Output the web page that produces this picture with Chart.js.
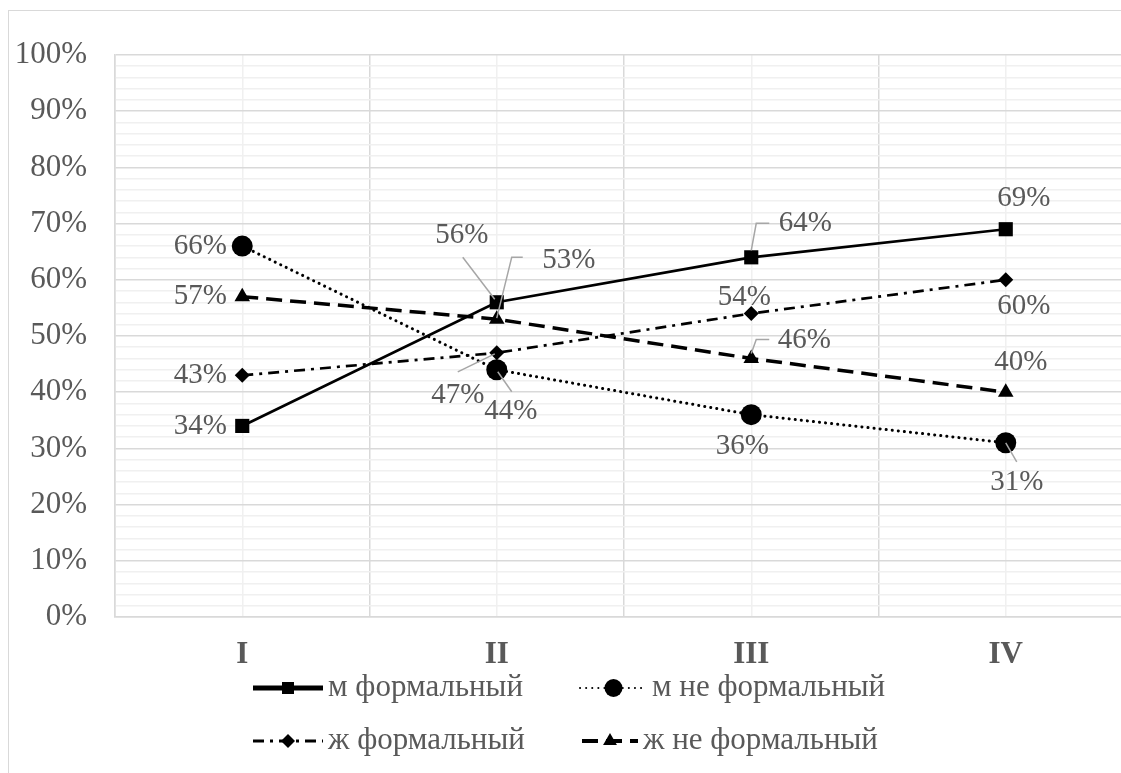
<!DOCTYPE html>
<html lang="ru">
<head>
    <meta charset="UTF-8">
    <title>Формальный / не формальный</title>
    <script src="https://cdn.jsdelivr.net/npm/chart.js"></script>
    <style>
        html, body { margin: 0; padding: 0; background: #fff; overflow: hidden; }
        .ramka { position: absolute; left: 8px; top: 10px; width: 1200px; height: 820px; border: 1px solid #d9d9d9; }
        #grafik { position: absolute; left: 0; top: 0; }
    </style>
</head>
<body>
    <div class="ramka"></div>
    <canvas id="grafik" width="1150" height="773"></canvas>

    <script>
        // данные
        const kategorii = ['I', 'II', 'III', 'IV'];
        const mFormal = [34, 56, 64, 69];
        const mNeFormal = [66, 44, 36, 31];
        const zhFormal = [43, 47, 54, 60];
        const zhNeFormal = [57, 53, 46, 40];
        const procentTiki = [0, 10, 20, 30, 40, 50, 60, 70, 80, 90, 100];

        const shrift = 'Liberation Serif';
        const seryi = '#595959';

        // подписи значений: смещение от точки и линии-выноски
        const podpisi = [
            [{dx: -42, dy: 0}, {dx: -35, dy: -67, lead: [[-2, -3], [-34, -45]]}, {dx: 54, dy: -34, lead: [[0, -7], [5, -34], [18, -34]]}, {dx: 18, dy: -31}],
            [{dx: -42, dy: 0}, {dx: 14, dy: 42, lead: [[1, 2], [15, 22]]}, {dx: -9, dy: 32}, {dx: 11, dy: 40, lead: [[0, 0], [11, 19]]}],
            [{dx: -42, dy: 0}, {dx: -39, dy: 43, lead: [[-2, 1], [-39, 19]]}, {dx: -7, dy: -16}, {dx: 18, dy: 27}],
            [{dx: -42, dy: 0}, {dx: 72, dy: -59, lead: [[0, -1], [15, -62], [26, -62]]}, {dx: 53, dy: -18, lead: [[0, -5], [5, -19], [18, -19]]}, {dx: 15, dy: -30}]
        ];

        // легенда (x - начало образца, w - длина, y - от низа области графика)
        const legenda = [
            {x: 253, w: 70, y: 71, lw: 5, r: 8.5},
            {x: 580, w: 67, y: 71, lw: 2, r: 9},
            {x: 253, w: 70, y: 124, lw: 3, r: 7},
            {x: 582, w: 56, y: 124, lw: 4, r: 8}
        ];

        const podpisiPlugin = {
            id: 'podpisi',
            afterDatasetsDraw(chart) {
                const ctx = chart.ctx;
                ctx.save();
                ctx.font = '29px "' + shrift + '"';
                ctx.textAlign = 'center';
                ctx.textBaseline = 'middle';
                chart.data.datasets.forEach((ds, i) => {
                    chart.getDatasetMeta(i).data.forEach((pt, j) => {
                        const p = podpisi[i][j];
                        if (p.lead) {
                            ctx.strokeStyle = '#a6a6a6';
                            ctx.lineWidth = 1.5;
                            ctx.beginPath();
                            p.lead.forEach((l, k) => {
                                if (k === 0) ctx.moveTo(pt.x + l[0], pt.y + l[1]);
                                else ctx.lineTo(pt.x + l[0], pt.y + l[1]);
                            });
                            ctx.stroke();
                        }
                        ctx.fillStyle = seryi;
                        ctx.fillText(ds.data[j] + '%', pt.x + p.dx, pt.y + p.dy);
                    });
                });
                ctx.restore();
            }
        };

        const legendaPlugin = {
            id: 'legenda',
            afterDraw(chart) {
                const ctx = chart.ctx;
                const niz = chart.chartArea.bottom;
                chart.data.datasets.forEach((ds, i) => {
                    const L = legenda[i];
                    const y = niz + L.y;
                    ctx.save();
                    ctx.strokeStyle = '#000';
                    ctx.lineWidth = L.lw;
                    ctx.lineCap = ds.borderCapStyle || 'butt';
                    ctx.setLineDash(ds.borderDash || []);
                    ctx.beginPath();
                    ctx.moveTo(L.x, y);
                    ctx.lineTo(L.x + L.w, y);
                    ctx.stroke();
                    ctx.setLineDash([]);
                    ctx.fillStyle = '#000';
                    Chart.helpers.drawPoint(ctx, {pointStyle: ds.pointStyle, radius: L.r, rotation: 0, borderWidth: 0}, L.x + L.w / 2, y);
                    ctx.fillStyle = seryi;
                    ctx.font = '31px "' + shrift + '"';
                    ctx.textAlign = 'left';
                    ctx.textBaseline = 'middle';
                    ctx.fillText(ds.label, L.x + L.w + 5, y);
                    ctx.restore();
                });
            }
        };

        const ctx = document.getElementById('grafik').getContext('2d');
        new Chart(ctx, {
            type: 'line',
            data: {
                labels: kategorii,
                datasets: [
                    {
                        label: 'м формальный',
                        data: mFormal,
                        borderColor: '#000', backgroundColor: '#000',
                        borderWidth: 2.7,
                        pointStyle: 'rect', pointRadius: 10, pointBorderWidth: 0
                    },
                    {
                        label: 'м не формальный',
                        data: mNeFormal,
                        borderColor: '#000', backgroundColor: '#000',
                        borderWidth: 3, borderDash: [0.1, 6], borderCapStyle: 'round',
                        pointStyle: 'circle', pointRadius: 10.5, pointBorderWidth: 0
                    },
                    {
                        label: 'ж формальный',
                        data: zhFormal,
                        borderColor: '#000', backgroundColor: '#000',
                        borderWidth: 2.7, borderDash: [11, 6, 3, 6],
                        pointStyle: 'rectRot', pointRadius: 7.5, pointBorderWidth: 0
                    },
                    {
                        label: 'ж не формальный',
                        data: zhNeFormal,
                        borderColor: '#000', backgroundColor: '#000',
                        borderWidth: 3.5, borderDash: [16, 8],
                        pointStyle: 'triangle', pointRadius: 9, pointBorderWidth: 0
                    }
                ]
            },
            options: {
                responsive: false,
                animation: false,
                layout: { padding: { top: 55, left: 0, right: 17, bottom: 86 } },
                plugins: {
                    legend: { display: false },
                    tooltip: { enabled: false }
                },
                scales: {
                    x: {
                        type: 'category',
                        offset: true,
                        grid: { offset: true, color: '#d9d9d9', lineWidth: 1.5, drawTicks: false },
                        border: { color: '#d9d9d9', width: 1.5 },
                        ticks: { color: seryi, padding: 19, font: { family: shrift, size: 31, weight: 'bold' } },
                        afterFit: s => { s.height = 70; }
                    },
                    xc: {
                        type: 'category',
                        position: 'bottom',
                        offset: true,
                        grid: { offset: false, color: '#f0f0f0', lineWidth: 1.5, drawTicks: false },
                        border: { display: false },
                        ticks: { display: false },
                        afterFit: s => { s.height = 0; }
                    },
                    y: {
                        min: 0,
                        max: 100,
                        ticks: {
                            stepSize: 2,
                            autoSkip: false,
                            padding: 28,
                            color: seryi,
                            font: { family: shrift, size: 31 },
                            callback: v => procentTiki.includes(v) ? v + '%' : ''
                        },
                        grid: {
                            drawTicks: false,
                            lineWidth: 1.5,
                            color: c => (c.tick && procentTiki.includes(c.tick.value)) ? '#d9d9d9' : '#f0f0f0'
                        },
                        border: { color: '#d9d9d9', width: 1.5 },
                        afterFit: s => { s.width = 115; }
                    }
                }
            },
            plugins: [podpisiPlugin, legendaPlugin]
        });
    </script>
</body>
</html>
